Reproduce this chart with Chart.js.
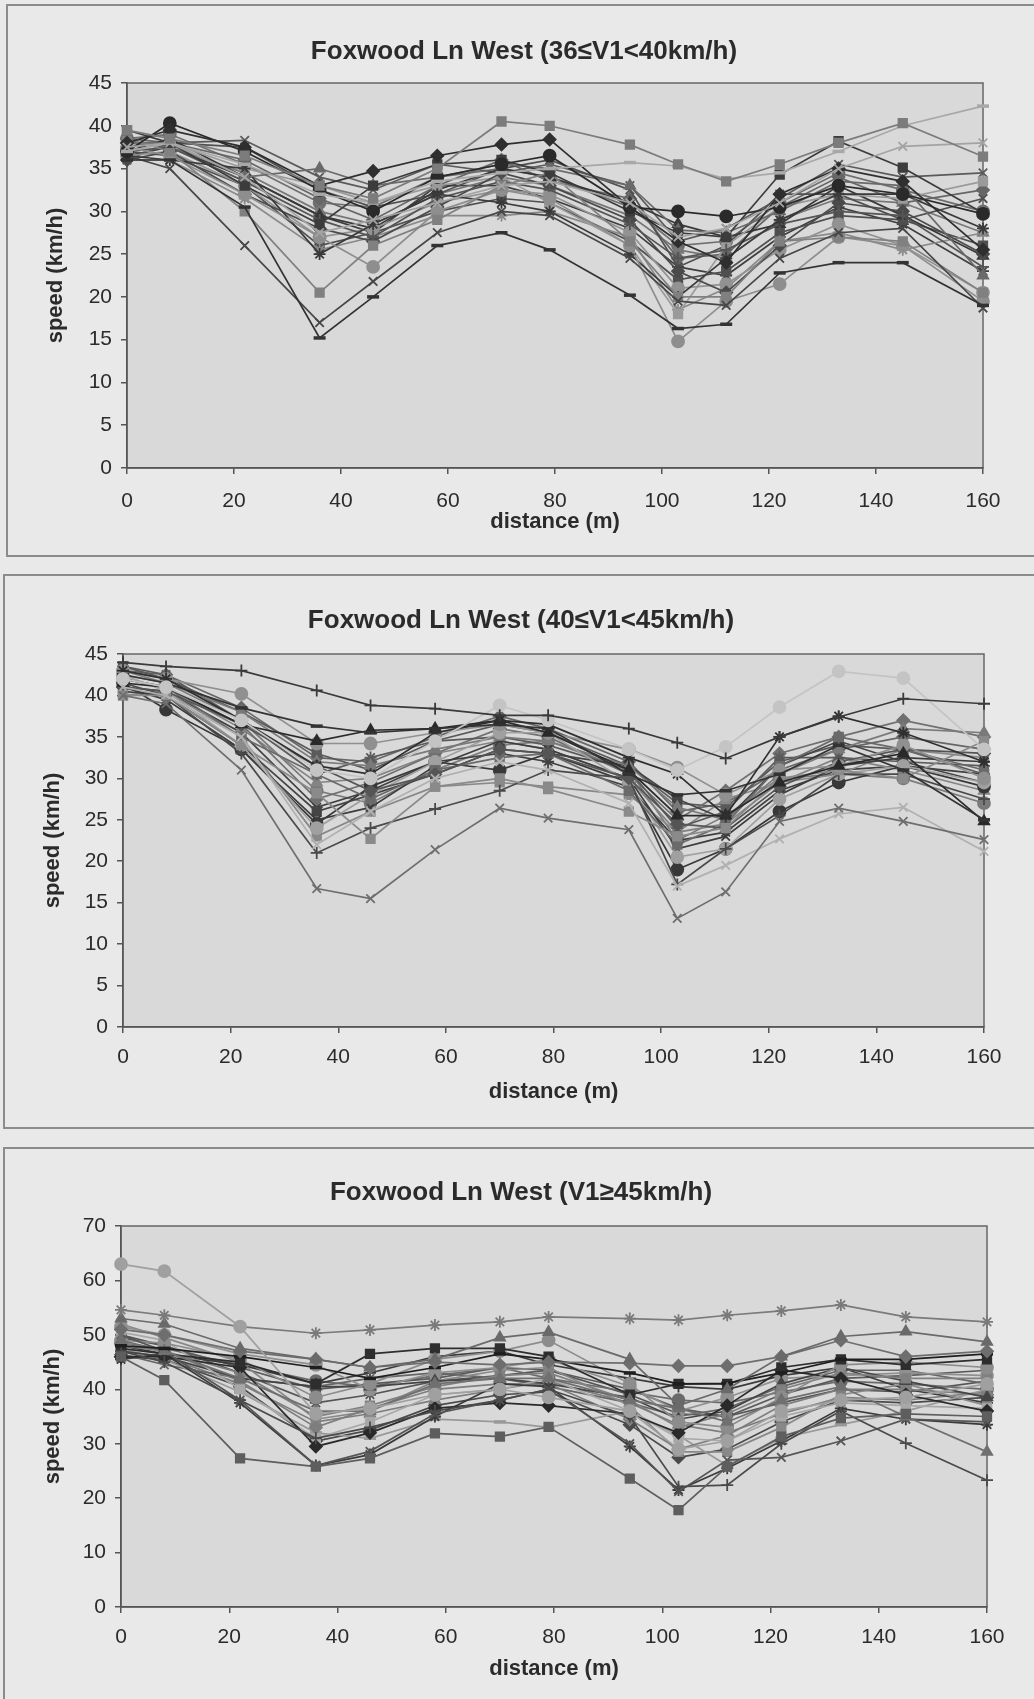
<!DOCTYPE html>
<html>
<head>
<meta charset="utf-8">
<title>Foxwood Ln West speed profiles</title>
<script src="https://cdn.jsdelivr.net/npm/chart.js@4.4.1/dist/chart.umd.min.js"></script>
<style>
  body { margin: 0; background: #e9e9e9; width: 1034px; height: 1699px; overflow: hidden; position: relative; }
  .frame { position: absolute; border: 2px solid #8c8c8c; box-sizing: border-box; }
  canvas { position: absolute; left: 0; }
</style>
</head>
<body>
<div class="frame" style="left:6px;top:4px;width:1100px;height:553px"></div>
<div class="frame" style="left:3px;top:574px;width:1100px;height:555px"></div>
<div class="frame" style="left:3px;top:1147px;width:1100px;height:600px"></div>
<canvas id="chart1" width="1034" height="560" style="top:0"></canvas>
<canvas id="chart2" width="1034" height="560" style="top:570px"></canvas>
<canvas id="chart3" width="1034" height="559" style="top:1140px"></canvas>
<script>
const distance = [0, 8, 22, 36, 46, 58, 70, 79, 94, 103, 112, 122, 133, 145, 160];
const distanceTicks = [0, 20, 40, 60, 80, 100, 120, 140, 160];
const speedTicks45 = [0, 5, 10, 15, 20, 25, 30, 35, 40, 45];
const speedTicks70 = [0, 10, 20, 30, 40, 50, 60, 70];

const title36to40 = "Foxwood Ln West (36≤V1<40km/h)";
const title40to45 = "Foxwood Ln West (40≤V1<45km/h)";
const title45up = "Foxwood Ln West (V1≥45km/h)";

// one row per vehicle, speed (km/h) at each distance
const band36to40 = [
  [39.5, 38.5, 36.5, 33, 31.5, 35, 40.5, 40, 37.8, 35.5, 33.5, 35.5, 38, 40.3, 36.4],
  [37, 38, 35.5, 32, 31, 33.5, 34.5, 35, 35.7, 35.3, 33.8, 34.5, 37, 40, 42.3],
  [37.5, 38, 34, 27.5, 29, 31, 33, 33.5, 31, 27, 28, 31, 35, 37.6, 38],
  [38, 39.5, 37.5, 33, 34.7, 36.5, 37.8, 38.4, 30.5, 26.5, 24, 32, 35, 33.5, 25.5],
  [37, 40.3, 37, 32.5, 30, 34, 35.5, 36.5, 30.5, 30, 29.4, 30.5, 33, 32, 29.7],
  [39.5, 38, 33, 28.5, 33, 35.5, 36, 34.5, 30, 27.5, 27, 34.3, 38.2, 35.1, 29.8],
  [36, 36, 30.5, 15.2, 20, 26, 27.5, 25.5, 20.2, 16.3, 16.8, 22.8, 24, 24, 19],
  [36.5, 35, 26, 17, 21.8, 27.5, 30, 29.5, 24.5, 19.5, 19, 24.5, 27.5, 28, 18.7],
  [38.5, 37, 30, 20.5, 26, 29, 33, 34.5, 26.5, 20, 20, 26.5, 27, 26.5, 20.5],
  [37.5, 36.5, 32, 27, 23.5, 30, 32.5, 31.5, 26, 14.8, 19.5, 21.5, 27, 26, 19.5],
  [38, 38, 34, 35, 33, 34, 35.5, 35, 33, 27.8, 27.5, 30, 33.5, 33, 22.5],
  [36.5, 36, 35, 25, 28.5, 32, 31, 30, 25, 20, 24.5, 29, 32, 32, 28],
  [37, 37.5, 33.5, 29, 27, 31.5, 33.5, 32.5, 28.5, 24.5, 25.5, 28.5, 30, 29.5, 23.5],
  [36, 37, 32, 28, 26.5, 30.5, 34.5, 33, 29, 23, 20.5, 26, 31, 30, 25],
  [36.5, 37, 33, 27, 28, 31, 32.5, 32, 27.5, 21, 21.5, 25.5, 28.5, 26, 20.5],
  [38, 38, 35, 33, 31, 33, 34, 31, 26, 18, 26, 30.5, 32, 31.5, 33.5],
  [37, 38.5, 34, 29.5, 28, 32.5, 35, 34, 31, 28.5, 27, 28.5, 33, 29.5, 24.8],
  [36, 36, 31.5, 25.5, 27, 29.5, 29.5, 30, 27, 18.5, 21, 26.5, 27.5, 25.5, 27.5],
  [37.5, 38, 37.5, 32.5, 30.5, 32, 35, 36, 32.5, 23.5, 26, 32, 32, 29, 31.5],
  [38.5, 38, 36, 31.5, 29, 33, 36, 33.5, 31.5, 24.5, 25, 30.5, 34, 31, 32.5],
  [36, 38, 38.3, 34, 32.5, 35.5, 34.5, 35.5, 33, 26.5, 28, 31.5, 35.5, 34, 34.5],
  [38, 37.5, 34.5, 30, 28.5, 32, 34, 33, 29.5, 25.5, 24.5, 29, 31.5, 31, 27.5],
  [37, 36.5, 33, 26, 27.5, 30, 31.5, 31, 26.5, 22, 23, 27.5, 29.5, 29, 26],
  [38.5, 39, 35.5, 31, 30.5, 34, 35, 34, 30.5, 26, 26.5, 31, 34.5, 32.5, 30],
  [36.5, 37.5, 34, 29.5, 27.5, 33, 33, 31.5, 28, 23.5, 22.5, 27, 30.5, 28.5, 23]
];

const band40to45 = [
  [44, 43.5, 43, 40.6, 38.8, 38.4, 37.6, 37.6, 36, 34.3, 32.4, 35, 37.4, 39.6, 39],
  [40, 39, 31, 16.7, 15.5, 21.4, 26.4, 25.2, 23.8, 13.1, 16.3, 24.8, 26.4, 24.8, 22.6],
  [42, 41, 37, 31, 30, 34.5, 38.8, 37, 33.5, 31, 33.8, 38.6, 42.9, 42.1, 33.5],
  [41, 40, 35, 22, 26, 30, 32, 31, 27, 17, 19.5, 22.7, 25.7, 26.5, 21.2],
  [43, 42, 37, 31.5, 30.5, 35.5, 37, 36.5, 32.5, 30.5, 25.5, 35, 37.5, 35.5, 32],
  [42.5, 41.5, 38.5, 36.3, 35.5, 36, 36.5, 36, 30.5, 28, 28.5, 30.5, 34, 31, 25],
  [41.5, 41, 36.5, 34.5, 35.8, 36, 37, 35.5, 31, 25.5, 25.5, 29.5, 31.5, 33, 24.8],
  [43, 42, 40.2, 34.2, 34.2, 35.5, 36.5, 35.5, 33.5, 31.3, 28, 31, 31.5, 34, 30],
  [40, 40, 34, 28.2, 22.7, 29, 30, 28.7, 26, 23, 24, 30, 31, 30, 34.5],
  [41, 40.5, 36.5, 31.5, 28.5, 30.5, 33.5, 33, 30, 24.5, 24, 29, 32, 33.5, 33],
  [41.5, 40, 33, 21, 24, 26.3, 28.5, 31, 30, 17.2, 21.5, 25.5, 30.5, 30.5, 27.5],
  [42, 41, 35, 30.5, 27.5, 31, 32.5, 33, 28.5, 22, 24.5, 31.5, 35, 33.5, 31],
  [42.5, 40.5, 34, 24, 28, 32, 35.5, 35.5, 29.5, 20.5, 21.5, 27.5, 30.5, 31.5, 29.5],
  [43, 41.5, 38, 32, 31.5, 33.5, 35, 34.5, 31.5, 26.5, 25, 30.5, 33.5, 36, 35.5],
  [41, 39.5, 33.5, 25, 26.5, 31.5, 34.5, 33.5, 30, 21.5, 23, 28, 31.5, 32.5, 32],
  [40.5, 40, 34, 26, 28, 30.5, 33.5, 33, 31.5, 27.5, 25, 31.5, 34.5, 32, 29.5],
  [43.5, 42.5, 37, 30.5, 32.5, 34.5, 35, 34, 31, 24, 26, 32.5, 32.5, 32, 31.5],
  [40, 40.5, 35, 23, 26, 29, 29.5, 29, 28, 23.5, 27.5, 29.5, 30.5, 33.5, 32.5],
  [41.5, 38.3, 33.5, 24.5, 29, 32, 31, 33, 29.5, 19, 21.5, 26, 29.5, 31.5, 29],
  [42, 41, 36.5, 27.5, 29.5, 33, 36, 35, 30.5, 25, 28.5, 33, 35, 37, 35],
  [43.5, 42, 38, 33, 31, 34.5, 36.5, 35.5, 31.5, 27, 26.5, 32, 34, 33.5, 30.5],
  [42, 41, 36, 29.5, 30, 33, 34.5, 33.5, 30, 23.5, 24.5, 29.5, 32.5, 31, 28.5],
  [41, 40.5, 35.5, 26.5, 28.5, 32, 33, 32, 29, 22.5, 23.5, 28.5, 31, 31.5, 30.5],
  [43, 42.5, 38.5, 32.5, 32, 35, 37.5, 36, 32, 26, 27, 31, 33.5, 35, 33.5],
  [42.5, 41.5, 37, 28.5, 27, 31, 34, 34.5, 31, 22.5, 25.5, 30, 30.5, 30, 27]
];

const band45up = [
  [63, 61.7, 51.5, 35.5, 36.5, 39, 40, 38.5, 36, 29, 30.5, 36, 38, 38.5, 41],
  [54.6, 53.6, 51.5, 50.3, 50.9, 51.8, 52.4, 53.3, 53, 52.7, 53.6, 54.4, 55.5, 53.3, 52.4],
  [53, 52, 47.5, 45.5, 44, 45.5, 49.5, 50.5, 45.5, 37, 40, 46, 49.7, 50.6, 48.7],
  [51, 50, 47, 45.5, 44, 45, 44.5, 45, 44.8, 44.3, 44.3, 46, 49, 46, 47],
  [48, 47.5, 46, 44, 42, 44, 46.5, 45.5, 43, 41, 41.1, 43, 45.5, 45.5, 46.5],
  [46, 41.7, 27.3, 25.8, 27.3, 31.9, 31.3, 33.1, 23.6, 17.8, 25.8, 31.3, 34.7, 35.5, 35],
  [47, 45, 38, 31, 33, 36, 38, 40, 35, 22.1, 22.4, 30, 36, 30.1, 23.3],
  [49, 47, 42, 36, 36, 41, 42, 42, 38, 36.5, 34, 38, 40.5, 35, 28.5],
  [50, 47, 38, 26, 28.6, 35.5, 38, 40, 30, 21.2, 27, 27.5, 30.5, 34.5, 34],
  [47.5, 46.5, 45, 41, 46.5, 47.5, 47.5, 46, 39, 41, 41, 44, 45.5, 44.5, 45.5],
  [49, 48.5, 45.5, 38.5, 41, 45.5, 47, 49, 41, 34, 33, 38.5, 44.5, 45, 44],
  [46, 46, 44, 29.5, 32, 36.5, 37.5, 37, 35.5, 32, 37, 43.5, 42, 39, 36],
  [48, 47, 43, 35, 37, 40.5, 42.5, 43, 38, 33, 35.5, 40, 43, 42, 42],
  [45.5, 46.5, 37.5, 26, 28, 35, 41, 40.5, 29.5, 21.5, 25.5, 30.5, 36.5, 34.5, 33.5],
  [50.5, 49, 40, 31, 34, 39, 40, 42, 36, 31, 30.5, 35, 37.5, 37, 36.5],
  [47, 46, 42, 40.5, 40.5, 41.5, 42, 41, 38.5, 34.5, 36, 41, 44, 41.5, 38.5],
  [48.5, 47, 41.5, 33, 36.5, 40, 41, 41, 34.5, 29, 31.5, 37, 40, 40, 39],
  [47.5, 45.5, 39.5, 32, 31, 34.5, 34, 33, 36, 31.5, 26, 31, 33.5, 36, 40],
  [51.5, 50, 46.5, 44.5, 40, 43, 44, 45.5, 40.5, 36, 38.5, 42, 42.5, 43, 42.5],
  [52, 49.5, 45, 34.5, 36, 41.5, 43.5, 44, 37, 28.5, 28.5, 33, 39, 41, 37],
  [46.5, 44.5, 42, 40.5, 42, 43, 42, 40.5, 37.5, 35, 36.5, 40.5, 43.5, 43.5, 41],
  [48, 46.5, 44.5, 41, 43, 46, 47, 44.5, 42, 40.5, 40, 42.5, 44, 40, 37.5],
  [49.5, 48, 44, 40, 41, 42, 44, 43.5, 40, 36.5, 35, 39, 42, 42.5, 43.5],
  [47, 46, 41, 34, 35.5, 38, 40, 41.5, 37.5, 33.5, 32, 35.5, 38.5, 38, 39.5],
  [48.5, 47.5, 44.5, 41.5, 40.5, 42.5, 44, 42, 39.5, 38, 37.5, 39.5, 41.5, 41, 40],
  [46, 45.5, 40.5, 30.5, 32.5, 37, 39, 39.5, 33.5, 27.5, 29, 34, 38, 37.5, 38.5],
  [50, 48, 43, 37.5, 39, 41.5, 42.5, 43.5, 39, 35.5, 35, 37.5, 40, 39.5, 41.5]
];

const markers36to40 = ["rect", "line", "crossRot", "rectRot", "circle", "rect", "line", "crossRot", "rect", "circle", "triangle",
  "star", "cross", "rectRot", "circle", "rect", "triangle", "star", "crossRot", "rectRot", "crossRot",
  "triangle", "rect", "circle", "star"];
const shades36to40 = ["#7c7c7c", "#a8a8a8", "#a3a3a3", "#2f2f2f", "#2a2a2a", "#3c3c3c", "#333333", "#474747", "#808080", "#8e8e8e", "#6a6a6a",
  "#3a3a3a", "#555555", "#4a4a4a", "#929292", "#9a9a9a", "#383838", "#8a8a8a", "#505050", "#666666", "#5a5a5a",
  "#777777", "#4f4f4f", "#6f6f6f", "#3f3f3f"];
const markers40to45 = ["cross", "crossRot", "circle", "crossRot", "star", "line", "triangle", "circle", "rect", "rectRot",
  "cross", "rect", "circle", "triangle", "crossRot", "rect", "star", "rect", "circle", "rectRot",
  "rect", "triangle", "star", "rectRot", "circle"];
const shades40to45 = ["#3a3a3a", "#6e6e6e", "#c4c4c4", "#b0b0b0", "#2f2f2f", "#333333", "#2a2a2a", "#909090", "#8a8a8a", "#555555",
  "#4a4a4a", "#6a6a6a", "#a0a0a0", "#7a7a7a", "#3c3c3c", "#454545", "#5a5a5a", "#888888", "#383838", "#707070",
  "#5a5a5a", "#848484", "#404040", "#666666", "#7a7a7a"];
const markers45up = ["circle", "star", "triangle", "rectRot", "line", "rect", "cross", "triangle", "crossRot", "rect", "circle",
  "rectRot", "rect", "star", "rect", "triangle", "rectRot", "line", "circle", "rect", "crossRot", "cross",
  "rect", "triangle", "circle", "rectRot", "star"];
const shades45up = ["#a0a0a0", "#7a7a7a", "#6a6a6a", "#6e6e6e", "#1f1f1f", "#5e5e5e", "#4a4a4a", "#707070", "#555555", "#2e2e2e", "#8c8c8c",
  "#2a2a2a", "#808080", "#3a3a3a", "#a8a8a8", "#454545", "#7e7e7e", "#999999", "#909090", "#888888", "#666666", "#3c3c3c",
  "#5a5a5a", "#7e7e7e", "#6a6a6a", "#4a4a4a", "#555555"];

const layout36to40 = { top: 83, bottom: 468, left: 127, right: 983, height: 560, titleX: 524, titleY: 52, tickPad: 15, xTitlePad: 25, yTitlePad: 43 };
const layout40to45 = { top: 84, bottom: 457, left: 123, right: 984, height: 560, titleX: 521, titleY: 51, tickPad: 12, xTitlePad: 25, yTitlePad: 40 };
const layout45up = { top: 86, bottom: 467, left: 121, right: 987, height: 559, titleX: 521, titleY: 53, tickPad: 12, xTitlePad: 17, yTitlePad: 40 };

const textColor = "#2b2b2b";
const axisColor = "#555555";
const fontFamily = '"Liberation Sans", Arial, sans-serif';

const plotFrame = {
  id: "plotFrame",
  beforeDraw(chart) {
    const { ctx, chartArea: a } = chart;
    ctx.save();
    ctx.fillStyle = "#d9d9d9";
    ctx.fillRect(a.left, a.top, a.right - a.left, a.bottom - a.top);
    ctx.strokeStyle = "#666666";
    ctx.lineWidth = 1.5;
    ctx.strokeRect(a.left, a.top, a.right - a.left, a.bottom - a.top);
    ctx.restore();
  },
  afterDraw(chart, args, opts) {
    const ctx = chart.ctx;
    ctx.save();
    ctx.font = "bold 26px " + fontFamily;
    ctx.fillStyle = textColor;
    ctx.textAlign = "center";
    ctx.textBaseline = "middle";
    ctx.fillText(opts.text, opts.x, opts.y);
    ctx.restore();
  }
};

function buildSeries(rows, markers, shades) {
  return rows.map((row, i) => ({
    data: row.map((v, j) => ({ x: distance[j], y: v })),
    borderColor: shades[i],
    backgroundColor: shades[i],
    pointBackgroundColor: shades[i],
    pointBorderColor: shades[i],
    pointStyle: markers[i],
    pointRadius: 6,
    pointBorderWidth: markers[i] === "line" ? 3.5 : 1.8,
    borderWidth: 1.7,
    tension: 0,
    clip: false
  }));
}

function drawPanel(id, title, rows, markers, shades, yTicks, box) {
  const ctx = document.getElementById(id).getContext("2d");
  return new Chart(ctx, {
    type: "line",
    data: { datasets: buildSeries(rows, markers, shades) },
    plugins: [plotFrame],
    options: {
      responsive: false,
      animation: false,
      devicePixelRatio: 1,
      layout: { padding: { top: box.top, right: 1034 - box.right, bottom: 0, left: 0 } },
      plugins: {
        legend: { display: false },
        tooltip: { enabled: false },
        plotFrame: { text: title, x: box.titleX, y: box.titleY }
      },
      scales: {
        x: {
          type: "linear",
          min: 0,
          max: 160,
          afterBuildTicks: s => { s.ticks = distanceTicks.map(v => ({ value: v })); },
          afterFit: s => { s.height = box.height - box.bottom; },
          grid: { drawOnChartArea: false, tickLength: 6, color: axisColor, lineWidth: 1.5 },
          border: { color: axisColor, width: 1.5 },
          ticks: { color: textColor, font: { family: fontFamily, size: 21 }, padding: box.tickPad, maxRotation: 0 },
          title: { display: true, text: "distance (m)", color: textColor,
            font: { family: fontFamily, size: 22, weight: "bold" }, padding: { top: 0, bottom: box.xTitlePad } }
        },
        y: {
          min: yTicks[0],
          max: yTicks[yTicks.length - 1],
          afterBuildTicks: s => { s.ticks = yTicks.map(v => ({ value: v })); },
          afterFit: s => { s.width = box.left; },
          grid: { drawOnChartArea: false, tickLength: 6, color: axisColor, lineWidth: 1.5 },
          border: { color: axisColor, width: 1.5 },
          ticks: { color: textColor, font: { family: fontFamily, size: 21 }, padding: 9 },
          title: { display: true, text: "speed (km/h)", color: textColor,
            font: { family: fontFamily, size: 22, weight: "bold" }, padding: { top: box.yTitlePad, bottom: 0 } }
        }
      }
    }
  });
}

drawPanel("chart1", title36to40, band36to40, markers36to40, shades36to40, speedTicks45, layout36to40);
drawPanel("chart2", title40to45, band40to45, markers40to45, shades40to45, speedTicks45, layout40to45);
drawPanel("chart3", title45up, band45up, markers45up, shades45up, speedTicks70, layout45up);
</script>
</body>
</html>
